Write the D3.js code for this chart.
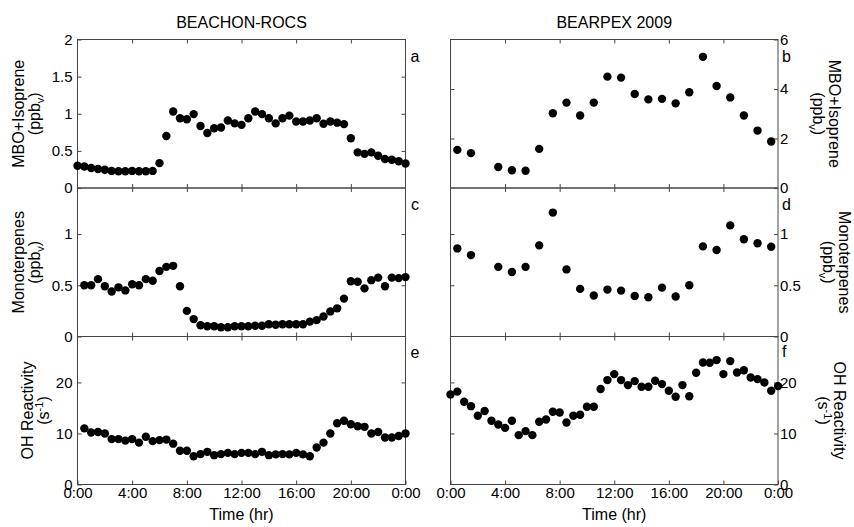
<!DOCTYPE html>
<html>
<head>
<meta charset="utf-8">
<style>
  html, body { margin: 0; padding: 0; background: #fff; }
  svg { display: block; font-family: 'Liberation Sans', Arial, sans-serif; }
</style>
</head>
<body>
<script src="https://d3js.org/d3.v7.min.js"></script>
<script>
// hours of day for each series
var hoursHalfFrom0 = [0,0.5,1,1.5,2,2.5,3,3.5,4,4.5,5,5.5,6,6.5,7,7.5,8,8.5,9,9.5,10,10.5,11,11.5,12,
  12.5,13,13.5,14,14.5,15,15.5,16,16.5,17,17.5,18,18.5,19,19.5,20,20.5,21,21.5,22,22.5,23,23.5,24];
var hoursHalfFromHalf = [0.5,1,1.5,2,2.5,3,3.5,4,4.5,5,5.5,6,6.5,7,7.5,8,8.5,9,9.5,10,10.5,11,11.5,12,
  12.5,13,13.5,14,14.5,15,15.5,16,16.5,17,17.5,18,18.5,19,19.5,20,20.5,21,21.5,22,22.5,23,23.5,24];
var hoursBearpexVoc = [0.5,1.5,3.5,4.5,5.5,6.5,7.5,8.5,9.5,10.5,11.5,12.5,13.5,14.5,15.5,16.5,17.5,
  18.5,19.5,20.5,21.5,22.5,23.5];

// BEACHON-ROCS
var rocsMbo = [0.30,0.29,0.27,0.255,0.245,0.23,0.225,0.225,0.23,0.225,0.225,0.23,0.335,0.70,1.03,0.94,
  0.925,0.995,0.835,0.74,0.805,0.815,0.91,0.87,0.85,0.94,1.03,0.995,0.94,0.87,0.94,0.975,0.895,0.895,
  0.91,0.94,0.865,0.895,0.88,0.86,0.67,0.48,0.46,0.48,0.435,0.39,0.38,0.36,0.33];
var rocsMono = [0.50,0.50,0.56,0.49,0.44,0.48,0.45,0.51,0.50,0.56,0.545,0.64,0.68,0.69,0.49,0.25,0.17,
  0.11,0.10,0.10,0.09,0.09,0.10,0.10,0.10,0.105,0.105,0.12,0.115,0.12,0.12,0.12,0.12,0.145,0.16,0.195,
  0.245,0.275,0.37,0.54,0.535,0.47,0.55,0.575,0.49,0.575,0.57,0.58];
var rocsOH = [11.0,10.2,10.3,10.0,8.9,8.9,8.6,8.9,8.2,9.35,8.5,8.7,8.8,8.0,6.6,6.6,5.55,5.95,6.4,5.75,
  5.95,6.2,5.95,6.2,6.2,5.95,6.4,5.75,5.9,5.95,5.9,6.2,5.9,5.55,7.25,8.2,10.0,12.0,12.5,11.8,11.4,11.3,
  10.0,10.3,9.2,9.2,9.5,10.0];

// BEARPEX 2009
var bearMbo = [1.54,1.41,0.85,0.72,0.70,1.58,3.02,3.45,2.93,3.45,4.50,4.46,3.80,3.58,3.60,3.42,3.87,
  5.30,4.12,3.66,2.93,2.32,1.88];
var bearMono = [0.86,0.795,0.68,0.63,0.68,0.89,1.21,0.655,0.465,0.40,0.458,0.448,0.396,0.383,0.477,
  0.39,0.50,0.88,0.845,1.085,0.95,0.91,0.877];
var bearOH = [17.65,18.2,16.2,15.35,13.46,14.4,12.5,11.76,11.1,12.5,9.67,10.46,9.67,12.3,12.75,14.25,
  14.1,12.16,13.46,13.66,15.23,15.23,18.7,20.46,21.63,20.46,19.48,20.26,19.15,19.15,20.33,19.67,18.37,
  17.19,19.48,17.3,21.9,23.92,23.86,24.38,21.63,24.18,21.96,22.4,20.97,20.65,20.0,18.37,19.28];

var campaigns = ["BEACHON-ROCS", "BEARPEX 2009"];
var timeTicks = [0, 4, 8, 12, 16, 20, 24];
var letters = [["a", "b"], ["c", "d"], ["e", "f"]];
var yMax = [[2, 6], [1.45, 1.45], [29, 29]];
var yTicks = [[[0, 0.5, 1, 1.5, 2], [0, 2, 4, 6]], [[0, 0.5, 1], [0, 0.5, 1]], [[0, 10, 20], [0, 10, 20]]];
var series = [
  [[hoursHalfFrom0, rocsMbo], [hoursBearpexVoc, bearMbo]],
  [[hoursHalfFromHalf, rocsMono], [hoursBearpexVoc, bearMono]],
  [[hoursHalfFromHalf, rocsOH], [hoursHalfFrom0, bearOH]]
];

var W = 854, H = 527;
var colX = [[77.5, 405.5], [450.5, 778]];
var rowY = [39.5, 188, 336.5, 484.5];
var lineCol = "#444";
var numFmt = function(d) { return String(d); };

var svg = d3.select("body").append("svg").attr("width", W).attr("height", H);

function styleAxis(g, showText) {
  g.select(".domain").remove();
  g.selectAll(".tick line").attr("stroke", lineCol);
  g.selectAll("text").attr("font-size", "15px").attr("fill", "#000")
    .attr("font-family", "'Liberation Sans', Arial, sans-serif");
  if (!showText) g.selectAll("text").remove();
}

for (var r = 0; r < 3; r++) {
  for (var c = 0; c < 2; c++) {
    var x = d3.scaleLinear().domain([0, 24]).range(colX[c]);
    var y = d3.scaleLinear().domain([0, yMax[r][c]]).range([rowY[r + 1], rowY[r]]);
    var g = svg.append("g");

    // x ticks, inward, top and bottom
    g.append("g").attr("transform", "translate(0," + rowY[r] + ")")
      .call(d3.axisTop(x).tickValues([4, 8, 12, 16, 20]).tickSize(-4))
      .call(styleAxis, false);
    g.append("g").attr("transform", "translate(0," + rowY[r + 1] + ")")
      .call(d3.axisBottom(x).tickValues(r == 2 ? timeTicks : [4, 8, 12, 16, 20]).tickSize(-4).tickPadding(3)
        .tickFormat(function(d) { return (d % 24) + ":00"; }))
      .call(styleAxis, r == 2);

    // y ticks both sides, labels on outer side
    var inner = yTicks[r][c].filter(function(d) { return d > 0 && d < yMax[r][c]; });
    if (c == 0) {
      g.append("g").attr("transform", "translate(" + colX[c][0] + ",0)")
        .call(d3.axisLeft(y).tickValues(yTicks[r][c]).tickSize(-4).tickPadding(5).tickFormat(numFmt))
        .call(styleAxis, true);
      g.append("g").attr("transform", "translate(" + colX[c][1] + ",0)")
        .call(d3.axisRight(y).tickValues(inner).tickSize(-4))
        .call(styleAxis, false);
    } else {
      g.append("g").attr("transform", "translate(" + colX[c][1] + ",0)")
        .call(d3.axisRight(y).tickValues(yTicks[r][c]).tickSize(-4).tickPadding(2).tickFormat(numFmt))
        .call(styleAxis, true);
      g.append("g").attr("transform", "translate(" + colX[c][0] + ",0)")
        .call(d3.axisLeft(y).tickValues(inner).tickSize(-4))
        .call(styleAxis, false);
    }

    // box
    g.append("rect")
      .attr("x", colX[c][0]).attr("y", rowY[r])
      .attr("width", colX[c][1] - colX[c][0]).attr("height", rowY[r + 1] - rowY[r])
      .attr("fill", "none").attr("stroke", lineCol).attr("stroke-width", 1);

    // points
    var hrs = series[r][c][0], vals = series[r][c][1];
    g.selectAll("circle").data(vals).enter().append("circle")
      .attr("cx", function(d, i) { return x(hrs[i]); })
      .attr("cy", function(d) { return y(d); })
      .attr("r", 4.2)
      .attr("fill", "#000");
  }
}

// titles
svg.selectAll(".title").data(campaigns).enter().append("text")
  .attr("x", function(d, i) { return (colX[i][0] + colX[i][1]) / 2; })
  .attr("y", 27.5)
  .attr("text-anchor", "middle")
  .attr("font-size", "16px")
  .text(function(d) { return d; });

// panel letters
var letterPos = [[[415, 61.7], [782, 61.7]], [[415, 209.5], [782, 209.5]], [[415, 357.5], [782, 357]]];
letters.forEach(function(row, r) {
  row.forEach(function(l, c) {
    svg.append("text")
      .attr("x", letterPos[r][c][0]).attr("y", letterPos[r][c][1])
      .attr("text-anchor", c == 0 ? "middle" : "start")
      .attr("font-size", "16px")
      .text(l);
  });
});

// y labels
var yLab1 = ["MBO+Isoprene", "Monoterpenes", "OH Reactivity"];
var leftBase = [[24, 40], [24, 40], [33, 49]];
var rightBase = [[829, 813], [839, 823], [834, 818]];

function unitLine(t, r) {
  if (r < 2) {
    t.append("tspan").text("(ppb");
    t.append("tspan").attr("font-size", "11px").attr("dy", 4).text("v");
    t.append("tspan").attr("dy", -4).text(")");
  } else {
    t.append("tspan").text("(s");
    t.append("tspan").attr("font-size", "11px").attr("dy", -6).text("-1");
    t.append("tspan").attr("dy", 6).text(")");
  }
}

for (var r2 = 0; r2 < 3; r2++) {
  var cy = (rowY[r2] + rowY[r2 + 1]) / 2;
  svg.append("text")
    .attr("transform", "translate(" + leftBase[r2][0] + "," + cy + ") rotate(-90)")
    .attr("text-anchor", "middle").attr("font-size", "16px")
    .text(yLab1[r2]);
  unitLine(svg.append("text")
    .attr("transform", "translate(" + leftBase[r2][1] + "," + cy + ") rotate(-90)")
    .attr("text-anchor", "middle").attr("font-size", "16px"), r2);

  svg.append("text")
    .attr("transform", "translate(" + rightBase[r2][0] + "," + cy + ") rotate(90)")
    .attr("text-anchor", "middle").attr("font-size", "16px")
    .text(yLab1[r2]);
  unitLine(svg.append("text")
    .attr("transform", "translate(" + rightBase[r2][1] + "," + cy + ") rotate(90)")
    .attr("text-anchor", "middle").attr("font-size", "16px"), r2);
}

// x labels
campaigns.forEach(function(d, i) {
  svg.append("text")
    .attr("x", (colX[i][0] + colX[i][1]) / 2).attr("y", 520)
    .attr("text-anchor", "middle").attr("font-size", "16px")
    .text("Time (hr)");
});
</script>
</body>
</html>
